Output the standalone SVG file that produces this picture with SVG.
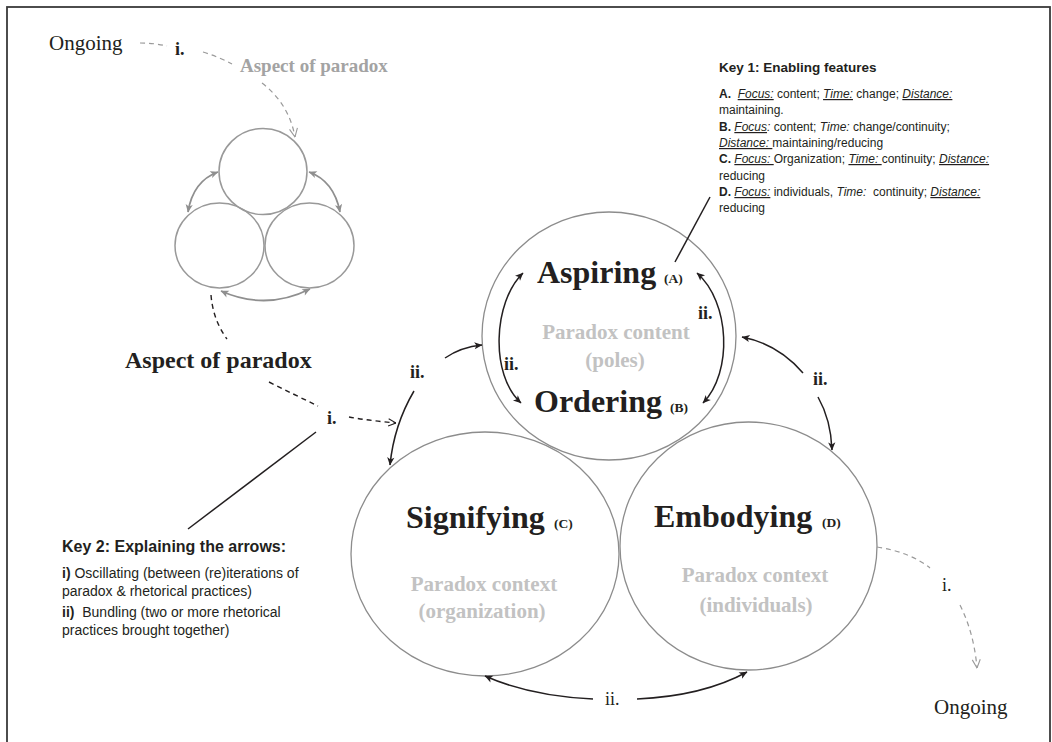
<svg xmlns="http://www.w3.org/2000/svg" width="1052" height="742" viewBox="0 0 1052 742">
<style>
.serif{font-family:"Liberation Serif","Times New Roman",serif;}
.sans{font-family:"Liberation Sans",Arial,sans-serif;fill:#231f20;white-space:pre;}
.big{font-size:32px;font-weight:bold;fill:#231f20;}
.tag{font-size:13.5px;font-weight:bold;fill:#231f20;}
.ctx{font-size:21px;font-weight:bold;fill:#c2c2c2;}
.lbl{font-size:18px;font-weight:bold;fill:#231f20;}
.lbln{font-size:18px;fill:#231f20;}
.main{fill:none;stroke:#8c8c8c;stroke-width:1.3;}
.mini{fill:none;stroke:#999;stroke-width:1.5;}
.solid{fill:none;stroke:#231f20;stroke-width:1.5;}
.garr{fill:none;stroke:#8f8f8f;stroke-width:1.8;}
.dashk{fill:none;stroke:#231f20;stroke-width:1.4;stroke-dasharray:5 4;}
.dashg{fill:none;stroke:#9a9a9a;stroke-width:1.2;stroke-dasharray:5 4;}
.u{font-style:italic;text-decoration:underline;}
.it{font-style:italic;}
.b{font-weight:bold;}
</style>
<defs>
<marker id="ak" viewBox="0 0 10 10" refX="9.5" refY="5" markerWidth="10" markerHeight="8" markerUnits="userSpaceOnUse" orient="auto-start-reverse">
<path d="M0,0.5 L10,5 L0,9.5 L2.5,5 z" fill="#231f20"/>
</marker>
<marker id="ag" viewBox="0 0 10 10" refX="9.5" refY="5" markerWidth="10" markerHeight="8" markerUnits="userSpaceOnUse" orient="auto-start-reverse">
<path d="M0,0.5 L10,5 L0,9.5 L2.5,5 z" fill="#8f8f8f"/>
</marker>
<marker id="ok" viewBox="0 0 10 10" refX="9.5" refY="5" markerWidth="9" markerHeight="9" markerUnits="userSpaceOnUse" orient="auto">
<path d="M1,1 L9.5,5 L1,9" fill="none" stroke="#231f20" stroke-width="1.2"/>
</marker>
<marker id="og" viewBox="0 0 10 10" refX="9.5" refY="5" markerWidth="10" markerHeight="10" markerUnits="userSpaceOnUse" orient="auto">
<path d="M1,1 L9.5,5 L1,9" fill="none" stroke="#9a9a9a" stroke-width="1.1"/>
</marker>
</defs>
<rect x="0" y="0" width="1052" height="742" fill="#fff"/>
<rect x="7" y="7" width="1043" height="770" fill="none" stroke="#3a3a3a" stroke-width="1.8"/>

<g id="mini-cycle">
<ellipse class="mini" cx="263" cy="171.5" rx="44" ry="43"/>
<ellipse class="mini" cx="219.5" cy="245.5" rx="44.5" ry="42.5"/>
<ellipse class="mini" cx="309.5" cy="245.5" rx="44.5" ry="42.5"/>
</g>

<g id="node-aspiring">
<ellipse class="main" cx="609" cy="336" rx="127" ry="124"/>
<text class="serif big" x="537" y="283">Aspiring</text>
<text class="serif tag" x="664" y="283">(A)</text>
<text class="serif ctx" x="616" y="339" text-anchor="middle">Paradox content</text>
<text class="serif ctx" x="615" y="367" text-anchor="middle">(poles)</text>
<text class="serif big" x="534" y="412">Ordering</text>
<text class="serif tag" x="670" y="412">(B)</text>
</g>

<g id="node-signifying">
<ellipse class="main" cx="485" cy="554" rx="134" ry="122"/>
<text class="serif big" x="406" y="528">Signifying</text>
<text class="serif tag" x="554" y="528">(C)</text>
<text class="serif ctx" x="484" y="591" text-anchor="middle">Paradox context</text>
<text class="serif ctx" x="482" y="618" text-anchor="middle">(organization)</text>
</g>

<g id="node-embodying">
<ellipse class="main" cx="748.5" cy="546" rx="128.5" ry="124"/>
<text class="serif big" x="654" y="527">Embodying</text>
<text class="serif tag" x="822" y="527">(D)</text>
<text class="serif ctx" x="755" y="582" text-anchor="middle">Paradox context</text>
<text class="serif ctx" x="756" y="612" text-anchor="middle">(individuals)</text>
</g>

<g id="labels">
<text class="serif" x="49" y="50" font-size="21" fill="#231f20">Ongoing</text>
<text class="serif lbl" x="175" y="55">i.</text>
<text class="serif" x="240" y="72" font-size="19" font-weight="bold" fill="#a3a3a3">Aspect of paradox</text>
<text class="serif" x="125" y="368" font-size="24" font-weight="bold" fill="#231f20">Aspect of paradox</text>
<text class="serif lbl" x="327" y="424">i.</text>
<text class="serif lbl" x="410" y="378">ii.</text>
<text class="serif lbl" x="504" y="370">ii.</text>
<text class="serif lbl" x="698" y="319">ii.</text>
<text class="serif lbl" x="813" y="385">ii.</text>
<text class="serif lbln" x="605" y="705">ii.</text>
<text class="serif lbln" x="942" y="591">i.</text>
<text class="serif" x="934" y="714" font-size="21" fill="#231f20">Ongoing</text>
</g>

<g id="connectors">
<path class="garr" d="M218,172 Q193,181 188,212" marker-start="url(#ag)" marker-end="url(#ag)"/>
<path class="garr" d="M309,172 Q334,181 340,212" marker-start="url(#ag)" marker-end="url(#ag)"/>
<path class="garr" d="M221,291 Q266,311 310,289" marker-start="url(#ag)" marker-end="url(#ag)"/>
<path class="dashg" d="M140,43 Q154,43 167,46"/>
<path class="dashg" d="M203,52 Q219,57 232,64"/>
<path class="dashg" d="M262,83 Q289,104 295,137" marker-end="url(#og)"/>
<path class="dashk" d="M211,295 Q213,320 227,339"/>
<path class="dashk" d="M269,382 Q295,395 318,406"/>
<path class="dashk" d="M349,417 Q372,421 396,423" marker-end="url(#ok)"/>
<path class="dashg" d="M877,547 Q910,552 930,568"/>
<path class="dashg" d="M960,605 Q974,633 977,668" marker-end="url(#og)"/>
<path class="solid" d="M445,358 Q461,347 482,345" marker-end="url(#ak)"/>
<path class="solid" d="M414,391 Q394,425 390,465" marker-end="url(#ak)"/>
<path class="solid" d="M803,373 Q778,344 742,337" marker-end="url(#ak)"/>
<path class="solid" d="M818,397 Q831,420 832,450" marker-end="url(#ak)"/>
<path class="solid" d="M593,699 Q530,696 485,676" marker-end="url(#ak)"/>
<path class="solid" d="M637,699 Q703,696 747,672" marker-end="url(#ak)"/>
<path class="solid" d="M523,273 C493,302 490,375 521,403" marker-start="url(#ak)" marker-end="url(#ak)"/>
<path class="solid" d="M697,273 C730,302 733,372 703,403" marker-start="url(#ak)" marker-end="url(#ak)"/>
<path class="solid" d="M710,197 L675,262" stroke-width="1.3"/>
<path class="solid" d="M316,432 L188,529" stroke-width="1.3"/>
</g>

<g id="key1">
<text class="sans" x="719" y="72" font-size="13.5" font-weight="bold">Key 1: Enabling features</text>
<text class="sans" font-size="12" xml:space="preserve"><tspan x="719" y="98"><tspan class="b">A.</tspan>  <tspan class="u">Focus:</tspan> content; <tspan class="u">Time:</tspan> change; <tspan class="u">Distance:</tspan></tspan><tspan x="719" y="114">maintaining.</tspan><tspan x="719" y="131"><tspan class="b">B.</tspan> <tspan class="u">Focus</tspan><tspan class="it">:</tspan> content; <tspan class="it">Time:</tspan> change/continuity;</tspan><tspan x="719" y="147"><tspan class="u">Distance: </tspan>maintaining/reducing</tspan><tspan x="719" y="163"><tspan class="b">C.</tspan> <tspan class="u">Focus: </tspan>Organization; <tspan class="u">Time: </tspan>continuity; <tspan class="u">Distance:</tspan></tspan><tspan x="719" y="180">reducing</tspan><tspan x="719" y="196"><tspan class="b">D.</tspan> <tspan class="u">Focus:</tspan> individuals, <tspan class="it">Time:</tspan>  continuity; <tspan class="u">Distance:</tspan></tspan><tspan x="719" y="212">reducing</tspan></text>
</g>

<g id="key2">
<text class="sans" x="62" y="552" font-size="16" font-weight="bold">Key 2: Explaining the arrows:</text>
<text class="sans" font-size="14" xml:space="preserve"><tspan x="62" y="578"><tspan class="b">i)</tspan> Oscillating (between (re)iterations of</tspan><tspan x="62" y="596">paradox &amp; rhetorical practices)</tspan><tspan x="62" y="617"><tspan class="b">ii)</tspan>  Bundling (two or more rhetorical</tspan><tspan x="62" y="635">practices brought together)</tspan></text>
</g>
</svg>
